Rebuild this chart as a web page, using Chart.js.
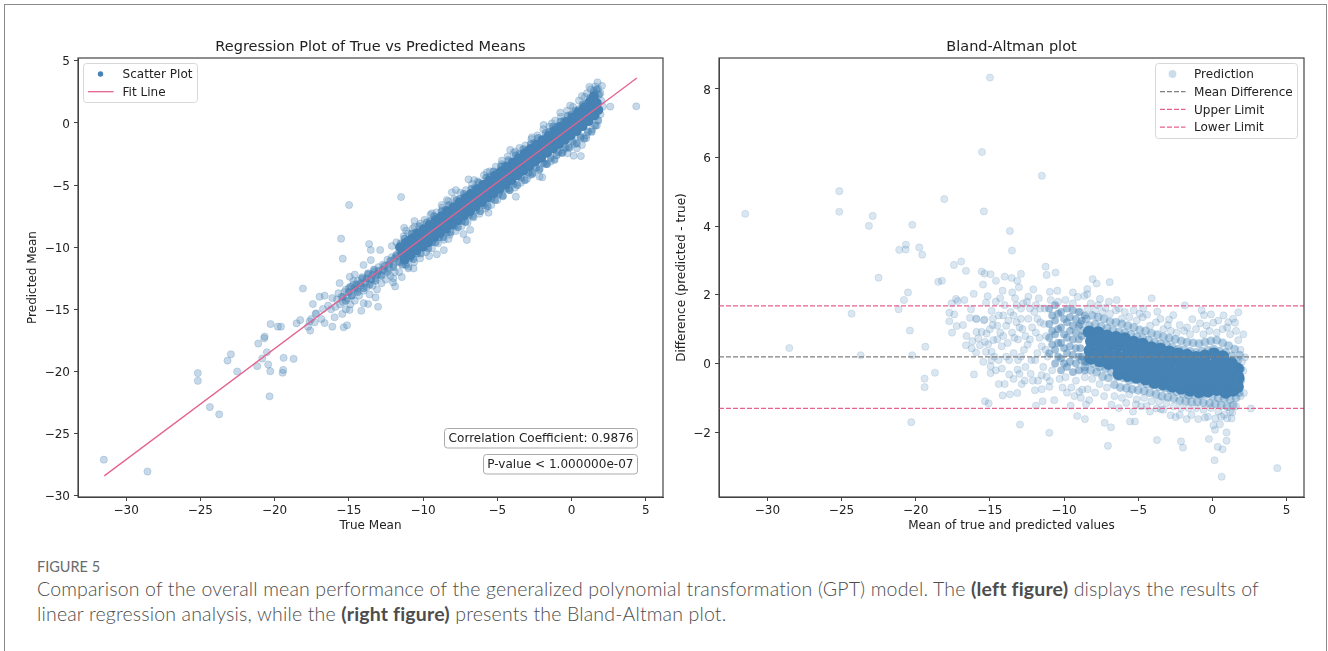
<!DOCTYPE html>
<html>
<head>
<meta charset="utf-8">
<title>Figure 5</title>
<script src="https://cdn.jsdelivr.net/npm/chart.js@4"></script>
<style>
    html, body { margin: 0; padding: 0; background: #fff; overflow: hidden; width: 1328px; height: 651px; }
    .frame { position: absolute; left: 4px; top: 4px; width: 1321px; height: 700px; border: 1.5px solid #8a8a8a; }
    canvas { position: absolute; }
    #regression-chart { left: 21px; top: 30px; }
    #bland-chart { left: 670px; top: 30px; }
    .fig-label { position: absolute; left: 37px; top: 558px; font: 14.5px Lato, sans-serif; color: #6a6a6a; }
    .fig-text { position: absolute; left: 37px; top: 577px; width: 1270px; font: 300 19.5px/24.5px Lato, sans-serif; letter-spacing: 0.17px; color: #4d4d4d; white-space: nowrap; }
    .fig-text b { font-weight: 700; color: #4d4d4d; }
</style>
</head>
<body>
<div class="frame"></div>
<canvas id="regression-chart" width="649" height="506"></canvas>
<canvas id="bland-chart" width="644" height="506"></canvas>
<div class="fig-label">FIGURE 5</div>
<div class="fig-text">Comparison of the overall mean performance of the generalized polynomial transformation (GPT) model. The <b>(left figure)</b> displays the results of<br>linear regression analysis, while the <b>(right figure)</b> presents the Bland-Altman plot.</div>
<script>
// tick labels
const regressionXTicks = [-30, -25, -20, -15, -10, -5, 0, 5];
const regressionYTicks = [-30, -25, -20, -15, -10, -5, 0, 5];
const blandXTicks = [-30, -25, -20, -15, -10, -5, 0, 5];
const blandYTicks = [-2, 0, 2, 4, 6, 8];

// left panel, [true, predicted]
const fitLine = [[-31.47, -28.4], [4.4, 3.62]];
const regressionSparse = [
    [-31.5,-27.1],[-28.56,-28.05],[-23.73,-23.45],[-24.36,-22.86],[-25.17,-20.75],[-25.17,-20.13],[-23.17,-19.12],[-22.94,-18.61],
    [-22.52,-20],[-21.17,-19.57],[-21.1,-17.75],[-20.83,-18.96],[-20.52,-18.45],[-20.7,-17.33],[-20.67,-17.19],[-20.43,-19.44],
    [-20.29,-19.97],[-20.34,-22],[-20.27,-16.18],[-19.78,-16.39],[-19.57,-16.39],[-19.39,-18.9],[-19.42,-19.87],[-19.46,-20.1],
    [-18.72,-18.98],[-18.52,-16.12],[-18.27,-15.86],[-18.09,-13.32],[-17.75,-16.39],[-17.6,-16.71],[-17.64,-15.96],[-17.53,-15.78],
    [-17.42,-14.57],[-17.3,-16.04],[-17.24,-15.37],[-17.19,-15.32],[-16.97,-13.98],[-16.63,-13.9],[-16.74,-14.97],[-16.85,-15.78],
    [-16.63,-16.1],[-16.4,-14.7],[-16.11,-16.39],[-16.11,-14.09],[-15.96,-15.64],[-15.35,-16.44],[-15.12,-16.28],[-15.44,-15.37],
    [-14.95,-15.05],[-14.16,-15.11],[-13.7,-14.57],[-13.03,-14.79],[-15.62,-12.89],[-14.94,-12.38],[-14.6,-12.2],[-12.02,-12.83],
    [-11.88,-13.15],[-13.2,-14.04],[-14.98,-6.6],[-11.48,-5.96],[-15.52,-9.31],[-15.41,-10.92],
    [-13.63,-9.74],[-13.52,-10.22],[-12.89,-10.22],[-14.01,-11.43],[-13.52,-11.03],[-12.1,-9.9],[-11.27,-8.43],[-11.14,-8.67],
    [-10.58,-7.89],[-10.58,-8.35],[-9.41,-7.27],[-8.74,-6.6],[-8.4,-6.2],[-8.06,-5.58],[-7.79,-5.4],[-6.94,-4.54],[-6.56,-4.59],
    [-5.7,-3.97],[-4.69,-3.03],[-4.13,-2.17],[-3.8,-2.3],[-2.67,-1.15],[-1.88,-0.16],[-1.32,-0.03],[-0.76,0.83],[-0.09,1.4],
    [0.7,2.17],[1.04,2.39],[1.75,3.27],[2.05,2.98],[2.11,1.32],[2.61,1.32],[4.36,1.34],
    [0.63,-2.66],[0.14,-2.63],[-0.27,-2.44],[0.36,-2.04],[0.7,-1.77],[0.99,-1.23],[-0.54,-2.17],[-1.0,-2.58],[-1.7,-3.3],
    [-1.97,-4.37],[-2.15,-4.32],[-2.78,-4.19],[-3.75,-5.93],[-4.24,-5.26],[-5.59,-7.22],[-6.83,-8.6],[-7.28,-8.94],[-7.05,-9.42],
    [-8.29,-9.34],[-8.6,-10.23],[-9.07,-10.57],[-9.59,-10.71],[-10.64,-11.7],[-10.98,-11.57],[-11.43,-12.4],[-12,-12.5],
    // band edges
    [-11.8,-9.6],[-11.3,-9.1],[-11,-8.9],[-10.7,-8.5],[-10.2,-8.1],[-9.9,-7.8],[-9.5,-7.4],[-9.1,-7.2],[-8.7,-6.8],[-8.3,-6.3],[-7.9,-6.1],
    [-7.5,-5.6],[-7.1,-5.4],[-6.7,-4.9],[-6.3,-4.7],[-5.9,-4.2],[-5.5,-3.9],[-5.1,-3.5],[-4.7,-3.3],[-4.3,-2.7],[-3.9,-2.4],[-3.5,-2],
    [-3.1,-1.8],[-2.7,-1.3],[-2.3,-1],[-1.9,-0.5],[-1.5,-0.3],[-1.1,0.2],[-0.7,0.5],[-0.3,1],[0.1,1.3],[0.5,1.8],[0.9,2.1],[1.3,2.7],
    [1.6,2.95],[1.5,2.6],[1.8,2.75],[1.95,2.4],[2,1.8],[1.2,2.9],
    [-11.6,-12],[-11,-11.7],[-10.6,-11.2],[-10.2,-10.9],[-9.8,-10.4],[-9.4,-10.1],[-9,-9.7],[-8.6,-9.4],[-8.2,-9],[-7.8,-8.7],[-7.4,-8.3],
    [-7,-8],[-6.6,-7.6],[-6.2,-7.3],[-5.8,-6.9],[-5.4,-6.6],[-5,-6.2],[-4.6,-5.9],[-4.2,-5.4],[-3.8,-5.2],[-3.4,-4.8],[-3,-4.5],[-2.6,-4],
    [-2.2,-3.8],[-1.8,-3.3],[-1.4,-3.1],[-1,-2.6],[-0.6,-2.4],[-0.2,-1.9],[0.2,-1.7],[0.6,-1.2],[1,-1],[1.4,-0.5],[1.7,-0.2],[1.95,0.7],
    // tail cluster
    [-16.2,-15],[-15.9,-14.8],[-15.8,-14.2],[-15.6,-14.6],[-15.5,-14],[-15.4,-14.4],[-15.3,-13.6],[-15.2,-15],[-15.1,-14.1],[-15,-13.3],
    [-14.9,-14.6],[-14.8,-13.9],[-14.7,-13],[-14.6,-14.3],[-14.5,-13.4],[-14.4,-12.7],[-14.3,-13.9],[-14.2,-13.1],[-14.1,-12.4],[-14,-14.5],
    [-14,-13.5],[-13.9,-12.8],[-13.8,-13.2],[-13.7,-12.2],[-13.6,-13.8],[-13.5,-12.6],[-13.4,-13.1],[-13.3,-12],[-13.2,-12.5],[-13.1,-13.4],
    [-13,-11.6],[-12.9,-12.2],[-12.8,-12.9],[-12.7,-11.4],[-12.6,-11.9],[-12.5,-12.6],[-12.4,-11],[-12.3,-11.7],[-12.2,-12.3],[-12.1,-10.8],
    [-12,-11.4],[-11.9,-12],[-11.8,-10.6],[-11.7,-11.1],[-11.6,-10.3],[-15.7,-13.7],[-15.2,-13.4],[-14.7,-12.7],[-14.4,-13.3],[-13.9,-12.9]
];
const regressionMid = [
    [-11.5,-9.7],[-11.25,-9.3],[-11,-9.4],[-10.75,-8.9],[-10.5,-8.8],[-10.25,-8.3],[-10,-8.5],[-9.75,-8],[-9.5,-7.9],[-9.25,-7.5],[-9,-7.6],[-8.75,-7.1],
    [-8.5,-7],[-8.25,-6.6],[-8,-6.7],[-7.75,-6.2],[-7.5,-6.1],[-7.25,-5.7],[-7,-5.8],[-6.75,-5.3],[-6.5,-5.2],[-6.25,-4.8],[-6,-4.9],[-5.75,-4.4],
    [-5.5,-4.3],[-5.25,-3.9],[-5,-4],[-4.75,-3.5],[-4.5,-3.4],[-4.25,-3],[-4,-3.1],[-3.75,-2.6],[-3.5,-2.5],[-3.25,-2.1],[-3,-2.2],[-2.75,-1.7],
    [-2.5,-1.6],[-2.25,-1.2],[-2,-1.3],[-1.75,-0.8],[-1.5,-0.7],[-1.25,-0.3],[-1,-0.3],[-0.75,0.1],[-0.5,0.2],[-0.25,0.6],[0,0.7],[0.25,1],
    [0.5,1.1],[0.75,1.5],[1,1.6],[1.25,2],[1.5,2.4],[1.7,2.7],[1.85,2.3],
    [-11.4,-11.4],[-11.15,-11.4],[-10.9,-10.9],[-10.65,-10.95],[-10.4,-10.5],[-10.15,-10.5],[-9.9,-10],[-9.65,-10.1],[-9.4,-9.6],[-9.15,-9.6],[-8.9,-9.2],
    [-8.65,-9.2],[-8.4,-8.8],[-8.15,-8.8],[-7.9,-8.3],[-7.65,-8.4],[-7.4,-7.9],[-7.15,-7.95],[-6.9,-7.4],[-6.65,-7.5],[-6.4,-7],[-6.15,-7.1],[-5.9,-6.6],
    [-5.65,-6.7],[-5.4,-6.1],[-5.15,-6.2],[-4.9,-5.7],[-4.65,-5.85],[-4.4,-5.3],[-4.15,-5.4],[-3.9,-4.9],[-3.65,-5],[-3.4,-4.4],[-3.15,-4.6],[-2.9,-4],
    [-2.65,-4.1],[-2.4,-3.6],[-2.15,-3.7],[-1.9,-3.2],[-1.65,-3.3],[-1.4,-2.8],[-1.15,-2.95],[-0.9,-2.35],[-0.65,-2.4],[-0.4,-2],[-0.15,-2],[0.1,-1.5],
    [0.35,-1.65],[0.6,-1.1],[0.85,-1.25],[1.1,-0.7],[1.35,-0.7],[1.6,-0.2],[1.8,0.2],
    [-15.4,-14],[-15.2,-14.3],[-15,-13.6],[-14.8,-13.9],[-14.6,-13.3],[-14.4,-13.6],[-14.2,-12.9],[-14,-13.3],[-13.8,-12.5],[-13.6,-13],[-13.4,-12.2],
    [-13.2,-12.7],[-13,-11.9],[-12.8,-12.3],[-12.6,-11.5],[-12.4,-12],[-12.2,-11.1],[-12,-11.6],[-11.8,-10.7],[-11.6,-11.2],[-14.1,-12.5],[-13.7,-12.1],
    [-13.5,-12.6],[-13.1,-12.2],[-12.7,-11.8],[-12.3,-11.4],[-11.9,-10.9],[-14.5,-13],[-14.9,-13.2],[-13.3,-11.8]
];
const regressionDense = [
    [-11.55,-10],[-11.4,-10.5],[-11.25,-11],[-11.15,-9.65],[-11,-10.1],[-10.85,-10.65],[-10.75,-9.3],[-10.6,-9.8],[-10.45,-10.25],
    [-10.35,-8.9],[-10.2,-9.4],[-10.05,-9.95],[-9.95,-8.55],[-9.8,-9.05],[-9.65,-9.6],[-9.55,-8.2],[-9.4,-8.7],[-9.25,-9.2],
    [-9.15,-7.85],[-9,-8.35],[-8.85,-8.85],[-8.75,-7.5],[-8.6,-8],[-8.45,-8.5],[-8.35,-7.1],[-8.2,-7.65],[-8.05,-8.15],
    [-7.95,-6.8],[-7.8,-7.25],[-7.65,-7.8],[-7.55,-6.4],[-7.4,-6.9],[-7.25,-7.45],[-7.15,-6.05],[-7,-6.55],[-6.85,-7.1],
    [-6.75,-5.7],[-6.6,-6.2],[-6.45,-6.7],[-6.35,-5.35],[-6.2,-5.85],[-6.05,-6.35],[-5.95,-5],[-5.8,-5.5],[-5.65,-6],
    [-5.55,-4.65],[-5.4,-5.15],[-5.25,-5.65],[-5.15,-4.25],[-5,-4.75],[-4.85,-5.3],[-4.75,-3.9],[-4.6,-4.4],[-4.45,-4.95],
    [-4.35,-3.55],[-4.2,-4.05],[-4.05,-4.6],[-3.95,-3.2],[-3.8,-3.7],[-3.65,-4.2],[-3.55,-2.85],[-3.4,-3.35],[-3.25,-3.85],
    [-3.15,-2.45],[-3,-3],[-2.85,-3.5],[-2.75,-2.1],[-2.6,-2.65],[-2.45,-3.1],[-2.35,-1.75],[-2.2,-2.25],[-2.05,-2.8],
    [-1.95,-1.4],[-1.8,-1.9],[-1.65,-2.4],[-1.55,-1.05],[-1.4,-1.55],[-1.25,-2.05],[-1.15,-0.65],[-1,-1.2],[-0.85,-1.7],
    [-0.75,-0.3],[-0.6,-0.85],[-0.45,-1.35],[-0.35,0.05],[-0.2,-0.5],[-0.05,-1],[0.05,0.45],[0.2,-0.1],[0.35,-0.65],
    [0.45,0.85],[0.6,0.3],[0.75,-0.25],[0.85,1.25],[1,0.7],[1.15,0.15],[1.25,1.7],[1.4,1.15],[1.55,0.6],[1.5,2.15],[1.7,1.6],[1.8,1.05]
];

// right panel, [mean, difference]
const meanDifference = 0.19;
const upperLimit = 1.68;
const lowerLimit = -1.31;
const blandLineEnds = [-33.26, 6.18];
const blandSparse = [
    [-14.99,8.33],[-15.53,6.16],[-25.15,5.02],[-25.15,4.42],[-31.49,4.36],[-22.9,4.3],[-23.15,4.01],[-18.07,4.79],[-15.4,4.43],[-20.23,4.04],
    [-20.66,3.46],[-21.11,3.31],[-20.68,3.32],[-19.76,3.38],[-19.56,3.17],[-22.5,2.5],[-17.42,2.87],[-16.93,2.97],[-16.61,2.7],[-15.55,2.68],
    [-15.35,2.62],[-14.95,2.6],[-14.59,2.41],[-15.46,2.3],[-18.48,2.38],[-18.23,2.41],[-16.09,2.03],[-15.15,1.96],[-20.52,2.07],[-20.79,1.85],
    [-21.15,1.58],[-24.32,1.45],[-20.39,0.96],[-28.52,0.45],[-23.71,0.24],[-20.23,0.24],[-19.35,0.49],[-18.7,-0.27],[-19.4,-0.44],[-19.4,-0.69],
    [-20.3,-1.71],[-16.07,-0.32],[-15.33,-1.1],[-15.08,-1.16],[-14.95,-0.28],[-14.95,-0.08],[-15.44,0.05],[-16.27,1.58],[-16.72,1.85],[-17.28,1.88],
    [-17.17,1.82],[-17.58,1.75],[-17.73,1.48],[-17.4,1.43],[-17.73,1.23],[-17.24,1.09],[-16.81,1.12],[-17.55,0.9],[-16.57,0.8],[-16.61,0.53],
    [-16.23,0.44],[-15.93,0.32],[-16.34,1.33],[-15.93,1.31],[-15.9,1.29],[-15.4,1.26],[-15.36,1.28],[-15.26,1.77],[-14.88,1.53],[-14.81,1.12],
    [-15.9,0.92],[-15.55,0.92],[-16.18,0.65],[-15.78,0.73],[-15.33,0.63],[-15.11,0.56],[-15.66,0.53],[-15.26,0.34],[-14.88,0.34],[-14.77,0.68],
    [-15.22,0.87],[-11.49,5.47],[-13.65,3.86],[-13.51,3.29],[-11.24,2.82],[-10.57,2.65],[-11.17,2.58],[-12.9,2.61],[-14,2.53],[-13.53,2.49],
    [-13.15,2.41],[-8.07,2.46],[-7.8,2.33],[-6.92,2.37],[-13.04,2.22],[-12.07,2.16],[-13.49,2.07],[-14.14,2.12],[-10.95,2.09],[-10.45,2.12],
    [-9.4,2.07],[-8.43,2.17],[-8.43,2.02],[-8.63,1.97],[-9.08,1.94],[-4.09,1.9],[-6.45,1.85],[-7.58,1.88],[-6.97,1.8],[-1.85,1.69],
    [-4.66,1.6],[-3.71,1.51],[-2.63,1.41],[-2.92,1.28],[-1.35,1.29],[-0.72,1.55],[-0.09,1.43],[-0.56,1.41],[0.76,1.4],[1.75,1.49],
    [1.08,1.2],[1.53,1.19],[-0.83,1.17],[0.07,1.19],[2.09,0.85],[1.75,0.68],[2.2,0.18],[2.09,-0.21],[2.13,-0.86],[2.6,-1.31],
    [4.38,-3.05],[0.63,-3.3],[0.15,-2.82],[0.69,-2.5],[0.36,-2.43],[0.96,-2.25],[0.96,-2.01],[-0.23,-2.2],[0.07,-1.8],[0.51,-1.77],
    [0.18,-1.93],[1.35,-1.43],[-1.98,-2.45],[-2.11,-2.27],[-3.73,-2.23],[-7.04,-2.4],[-6.83,-1.86],[-7.26,-1.73],[-10.99,-2.02],[-12.97,-1.78],
    [-8.59,-1.62],[-9.11,-1.53],[-5.55,-1.69],[-5.22,-1.69],[-5.35,-1.4],[-9.55,-1.23],[-8.52,-1.19],[-8.3,-1.07],[-8.86,-1],[-8.77,-0.76],
    [-8.97,-0.83],[-10.66,-1.07],[-11.44,-1.1],[-11.89,-1.23],[-11.96,-0.78],[-13.15,-0.86],[-13.65,-0.9],[-14.14,-0.93],[-10.99,-0.68],[-10.95,-0.51],
    [-11.17,-0.39],[-11.51,-0.34],[-13.13,-0.18],[-13.69,-0.32],[-14.19,-0.15],[-2.81,-1.51],[-1.73,-1.62],[-2.47,-1.56],[-0.95,-1.62],[-0.5,-1.58],
    [-3.76,-1.31],[-3.46,-1.33],[-4.43,-1.24],[-5.15,-1.19],
    // rim of the dense blob
    [-8.9,1.5],[-8.4,1.6],[-7.9,1.55],[-7.4,1.5],[-6.9,1.45],[-6.5,1.55],[-6.1,1.3],[-5.6,1.35],[-5.1,1.25],[-4.7,1.35],[-4.2,1.1],[-3.8,1.2],
    [-3.3,1],[-2.8,0.95],[-2.4,0.9],[-1.9,0.95],[-1.5,0.85],[-1.1,1],[-0.6,0.85],[-0.2,0.95],[0.3,0.9],[0.7,1],[1.2,0.85],[1.6,0.95],[1.9,0.4],[2,0.05],
    [-8.6,-0.4],[-8.1,-0.45],[-7.6,-0.6],[-7.1,-0.7],[-6.6,-0.95],[-6.1,-1],[-5.6,-0.9],[-5.1,-1.05],[-4.6,-1],[-4.1,-1.1],[-3.6,-1.1],[-3.1,-1.15],
    [-2.6,-1.25],[-2.1,-1.3],[-1.6,-1.3],[-1.1,-1.3],[-0.6,-1.35],[-0.1,-1.3],[0.4,-1.4],[0.8,-1.5],[1.2,-1.4],[1.6,-1.25],[1.9,-0.95],[1,-1.6],[0.6,-1.55],
    [-8.2,1.75],[-7.7,1.7],[-7.2,1.62],[-6.3,1.6],[-5.9,1.5],[-5.3,1.55],[-4.9,1.45],[-4.4,1.42],[-3.5,1.3],[-3,1.12],[-2.2,1.12],[-1.7,1.05],[-0.4,1.1],[0.4,1.25],[1,1.05],[1.4,1.3],
    [-9.3,-0.95],[-8.4,-0.75],[-7.9,-0.85],[-7.3,-0.95],[-6.8,-1.2],[-6.3,-1.3],[-5.8,-1.15],[-4.8,-1.25],[-4.2,-1.4],[-3.3,-1.35],[-2.2,-1.5],[-1.4,-1.5],[-0.3,-1.55],[0.2,-1.6],[1.3,-1.6],
    // scatter left of the blob
    [-14.6,1.8],[-14.4,1.4],[-14.3,0.9],[-14.2,0.5],[-14,1.7],[-13.9,1.1],[-13.8,0.6],[-13.7,0.1],[-13.6,1.5],[-13.5,0.9],[-13.4,0.3],[-13.3,1.9],
    [-13.2,1.2],[-13.1,0.7],[-13,-0.3],[-12.9,1.6],[-12.8,1],[-12.7,0.4],[-12.6,-0.1],[-12.5,1.8],[-12.4,1.3],[-12.3,0.7],[-12.2,0.1],[-12.1,-0.5],
    [-12,1.5],[-11.9,0.9],[-11.8,0.3],[-11.7,1.9],[-11.6,1.2],[-11.5,0.5],[-11.4,-0.1],[-11.3,1.6],[-11.2,0.8],[-11.1,0.2],[-14.5,1.1],[-13.9,0.2],
    [-14.7,0.2],[-14.8,1.3],[-15,1],[-14.6,-0.2],[-12.6,0.8],[-13.2,1.7],[-12.3,1.6],[-11.9,1.7],[-12.9,0.2],[-13.4,1.4],[-14.1,1.4],[-14.5,0.7],
    [-10.9,1.85],[-10.4,1.8],[-9.9,1.85],[-9.4,1.75],[-10.8,-0.2],[-10.3,-0.45],[-9.9,-0.4],[-9.5,-0.7],[-9.2,-0.5],[-10.1,-0.7],[-9.8,-0.85],
    [-14.9,0.1],[-14.3,1.9],[-14.1,0.8],[-14.4,0.1],[-13.75,1.25],[-13.35,0.75],[-13,1.05],[-12.75,1.75],[-12.45,0.55],[-12.15,1.05],[-11.95,0.1],[-11.65,0.75],[-11.35,1.15],[-11.25,0.4],
    [-12.65,-0.5],[-12.25,-0.3],[-11.75,-0.5],[-11.5,-0.75],[-13.4,-0.45],[-12.85,-0.6],[-14,-0.6],[-14.4,-0.6],[-12.4,1.95],[-11.8,1.3],[-12.9,1.3],[-11.6,1.6],[-13.1,0.1]
];
const blandMid = [
    [-11,1.6],[-11,1.15],[-11,0.75],[-11,0.3],[-10.6,1.7],[-10.6,1.25],[-10.6,0.85],[-10.6,0.4],[-10.6,0],[-10.2,1.5],[-10.2,1.05],[-10.2,0.6],[-10.2,0.15],
    [-10.2,-0.2],[-9.8,1.6],[-9.8,1.2],[-9.8,0.75],[-9.8,0.3],[-9.8,-0.1],[-9.4,1.55],[-9.4,1.1],[-9.4,0.7],[-9.4,0.25],[-9.4,-0.25],[-9,1.5],[-9,1.1],
    [-9,0.7],[-9,0.2],[-9,-0.2],[-8.6,1.4],[-8.6,0.05],[-8.6,-0.2],[-8.9,0.45],
    [-10.8,1.4],[-10.8,0.95],[-10.8,0.55],[-10.4,1.45],[-10.4,1],[-10.4,0.6],[-10.4,0.2],[-10,1.3],[-10,0.85],[-10,0.45],[-10,0],[-9.6,1.35],[-9.6,0.95],
    [-9.6,0.5],[-9.6,0.05],[-9.2,1.3],[-9.2,0.9],[-9.2,0.45],[-9.2,0],[-8.8,1.25],[-8.8,0.8],[-8.8,0.2]
];
const blandRim = [
    [-8.9,1.15],[-8.7,0.95],[-8.5,1.3],[-8.3,1.1],[-8.1,1.4],[-7.9,1.15],[-7.7,1.35],[-7.5,1.08],[-7.3,1.3],[-7.1,1.02],[-6.9,1.22],[-6.7,0.98],[-6.5,1.2],
    [-6.3,0.92],[-6.1,1.15],[-5.9,0.9],[-5.7,1.1],[-5.5,0.85],[-5.3,1.05],[-5.1,0.78],[-4.9,0.98],[-4.7,0.75],[-4.5,0.95],[-4.3,0.68],[-4.1,0.88],[-3.9,0.62],
    [-3.7,0.84],[-3.5,0.58],[-3.3,0.78],[-3.1,0.55],[-2.9,0.74],[-2.7,0.48],[-2.5,0.7],[-2.3,0.42],[-2.1,0.66],[-1.9,0.4],[-1.7,0.62],[-1.5,0.35],[-1.3,0.6],
    [-1.1,0.32],[-0.9,0.58],[-0.7,0.35],[-0.5,0.62],[-0.3,0.38],[-0.1,0.66],[0.1,0.42],[0.3,0.68],[0.5,0.36],[0.7,0.6],[0.9,0.32],[1.1,0.52],[1.3,0.22],
    [1.5,0.42],[1.7,0.08],[1.85,0.24],
    [-8.8,0.1],[-8.6,-0.1],[-8.4,0.05],[-8.2,-0.2],[-8,0],[-7.8,-0.25],[-7.6,-0.1],[-7.4,-0.38],[-7.2,-0.15],[-7,-0.42],[-6.8,-0.25],[-6.6,-0.62],[-6.4,-0.38],
    [-6.2,-0.7],[-6,-0.42],[-5.8,-0.72],[-5.6,-0.5],[-5.4,-0.75],[-5.2,-0.48],[-5,-0.78],[-4.8,-0.55],[-4.6,-0.8],[-4.4,-0.6],[-4.2,-0.85],[-4,-0.62],[-3.8,-0.9],
    [-3.6,-0.68],[-3.4,-0.95],[-3.2,-0.72],[-3,-0.98],[-2.8,-0.78],[-2.6,-1.02],[-2.4,-0.82],[-2.2,-1.08],[-2,-0.88],[-1.8,-1.1],[-1.6,-0.92],[-1.4,-1.12],[-1.2,-0.9],
    [-1,-1.12],[-0.8,-0.92],[-0.6,-1.14],[-0.4,-0.9],[-0.2,-1.16],[0,-0.95],[0.2,-1.18],[0.4,-1],[0.6,-1.22],[0.8,-1.02],[1,-1.26],[1.2,-1.05],[1.4,-1.22],[1.6,-1],
    [1.8,-0.85],[1.9,-0.5],[1.9,-0.15]
];
const blandDense = [
    [-8.3,0.92],[-8.15,0.65],[-8.25,0.38],[-8.2,0.15],[-7.7,0.9],[-7.55,0.62],[-7.65,0.35],[-7.6,0.08],[-7.1,0.8],[-6.95,0.55],[-7.05,0.28],[-7,0],
    [-6.5,0.76],[-6.35,0.5],[-6.45,0.22],[-6.4,-0.05],[-6.3,-0.3],[-5.9,0.72],[-5.75,0.45],[-5.85,0.18],[-5.8,-0.08],[-5.7,-0.35],[-5.3,0.62],[-5.15,0.36],
    [-5.25,0.1],[-5.2,-0.15],[-5.1,-0.4],[-4.7,0.56],[-4.55,0.3],[-4.65,0.05],[-4.6,-0.2],[-4.5,-0.45],[-4.1,0.46],[-3.95,0.2],[-4.05,-0.06],[-4,-0.32],[-3.9,-0.55],
    [-3.5,0.42],[-3.35,0.15],[-3.45,-0.1],[-3.4,-0.36],[-3.3,-0.6],[-2.9,0.34],[-2.75,0.08],[-2.85,-0.18],[-2.8,-0.42],[-2.7,-0.66],[-2.3,0.28],[-2.15,0.02],[-2.25,-0.24],
    [-2.2,-0.5],[-2.1,-0.72],[-1.7,0.24],[-1.55,-0.02],[-1.65,-0.28],[-1.6,-0.54],[-1.5,-0.78],[-1.1,0.18],[-0.95,-0.08],[-1.05,-0.34],[-1,-0.6],[-0.9,-0.82],
    [-0.5,0.22],[-0.35,-0.05],[-0.45,-0.3],[-0.4,-0.56],[-0.3,-0.8],[0.1,0.28],[0.25,0.02],[0.15,-0.25],[0.2,-0.5],[0.3,-0.76],[0.7,0.2],[0.85,-0.06],[0.75,-0.32],
    [0.8,-0.58],[0.9,-0.84],[1.3,0],[1.45,-0.26],[1.35,-0.52],[1.4,-0.78],[1.7,-0.16],[1.75,-0.42],[1.7,-0.68]
];

const steel = '70, 130, 180';
const pink = '#e4638f';
const axisColor = '#444';
const tickFont = { family: 'DejaVu Sans', size: 12 };

const toPoints = rows => rows.map(r => ({ x: r[0], y: r[1] }));
const minusSign = v => String(v).replace('-', '\u2212');

// title, frame, legend box and the small note boxes; these sit inside the axes so the stock plugins cant place them
const panelDecor = {
    id: 'panelDecor',
    afterDatasetsDraw(chart, args, opts) {
        const ctx = chart.ctx;
        const area = chart.chartArea;
        const left = chart.canvas.offsetLeft;
        const top = chart.canvas.offsetTop;
        ctx.save();
        ctx.strokeStyle = axisColor;
        ctx.lineWidth = 1.2;
        ctx.strokeRect(area.left, area.top, area.right - area.left, area.bottom - area.top);

        ctx.fillStyle = '#222';
        ctx.font = '14.5px "DejaVu Sans"';
        ctx.textAlign = 'center';
        ctx.textBaseline = 'middle';
        ctx.fillText(opts.title, (area.left + area.right) / 2, 47 - top);

        const box = opts.legendBox;
        ctx.beginPath();
        ctx.roundRect(box.x - left, box.y - top, box.w, box.h, 3);
        ctx.fillStyle = 'rgba(255,255,255,0.85)';
        ctx.fill();
        ctx.strokeStyle = '#d8d8d8';
        ctx.lineWidth = 1;
        ctx.stroke();
        ctx.font = '12.05px "DejaVu Sans"';
        ctx.textAlign = 'left';
        opts.rows.forEach((row, i) => {
            const y = box.y - top + box.firstRow + i * box.rowGap;
            const x = box.x - left;
            if (row.kind === 'dot') {
                ctx.beginPath();
                ctx.arc(x + 17, y, row.r, 0, Math.PI * 2);
                ctx.fillStyle = row.color;
                ctx.fill();
            } else {
                ctx.beginPath();
                ctx.setLineDash(row.dash || []);
                ctx.moveTo(x + 4.5, y);
                ctx.lineTo(x + 30, y);
                ctx.strokeStyle = row.color;
                ctx.lineWidth = 1.3;
                ctx.stroke();
                ctx.setLineDash([]);
            }
            ctx.fillStyle = '#222';
            ctx.fillText(row.text, x + box.textAt, y + 1);
        });

        (opts.notes || []).forEach(note => {
            ctx.beginPath();
            ctx.roundRect(note.x - left, note.y - top, note.w, note.h, 3);
            ctx.fillStyle = '#fff';
            ctx.fill();
            ctx.strokeStyle = '#aaa';
            ctx.lineWidth = 1;
            ctx.stroke();
            ctx.fillStyle = '#222';
            ctx.font = '12.05px "DejaVu Sans"';
            ctx.textAlign = 'right';
            ctx.fillText(note.text, note.x - left + note.w - 4, note.y - top + note.h / 2 + 1);
        });
        ctx.restore();
    }
};

function axis(min, max, tickValues, titleText, fitSize, isX) {
    return {
        type: 'linear',
        bounds: 'data',
        min: min,
        max: max,
        afterBuildTicks: scale => { scale.ticks = tickValues.map(v => ({ value: v })); },
        afterFit: scale => { if (isX) { scale.height = fitSize; } else { scale.width = fitSize; } },
        border: { display: true, color: axisColor, width: 1 },
        grid: { drawOnChartArea: false, drawTicks: true, tickColor: axisColor, tickLength: 4 },
        ticks: {
            autoSkip: false,
            maxRotation: 0,
            padding: isX ? 3 : 4,
            labelOffset: isX ? 0 : 1.5,
            color: '#222',
            font: tickFont,
            callback: minusSign
        },
        title: {
            display: true,
            text: titleText,
            color: '#222',
            font: { family: 'DejaVu Sans', size: 12 },
            padding: { top: isX ? 2 : 5, bottom: 3 }
        }
    };
}

function scatterSet(label, rows, alpha, radius, edge) {
    return {
        label: label,
        data: toPoints(rows),
        backgroundColor: 'rgba(' + steel + ', ' + alpha + ')',
        borderColor: 'rgba(' + steel + ', ' + alpha + ')',
        borderWidth: edge,
        pointRadius: radius
    };
}

function lineSet(label, rows, color, dash) {
    return {
        type: 'line',
        label: label,
        data: toPoints(rows),
        borderColor: color,
        borderWidth: 1.3,
        borderDash: dash,
        pointRadius: 0,
        fill: false,
        tension: 0
    };
}

new Chart(document.getElementById('regression-chart'), {
    type: 'scatter',
    plugins: [panelDecor],
    data: {
        datasets: [
            lineSet('Fit Line', fitLine, pink, []),
            scatterSet('Scatter Plot', regressionSparse, 0.3, 3.6, 0.8),
            scatterSet('Scatter Plot', regressionMid, 0.6, 3.9, 0),
            scatterSet('Scatter Plot', regressionDense, 1, 5, 0)
        ]
    },
    options: {
        responsive: false,
        animation: false,
        layout: { padding: { top: 28, right: 7, bottom: 0, left: 0 } },
        scales: {
            x: axis(-33.24, 6.16, regressionXTicks, 'True Mean', 39, true),
            y: axis(-30.1, 5.23, regressionYTicks, 'Predicted Mean', 57, false)
        },
        plugins: {
            legend: { display: false },
            tooltip: { enabled: false },
            panelDecor: {
                title: 'Regression Plot of True vs Predicted Means',
                legendBox: { x: 83.5, y: 63.5, w: 114, h: 39, firstRow: 10.5, rowGap: 17.7, textAt: 39 },
                rows: [
                    { text: 'Scatter Plot', kind: 'dot', color: 'rgb(' + steel + ')', r: 2.7 },
                    { text: 'Fit Line', kind: 'line', color: pink }
                ],
                notes: [
                    { text: 'Correlation Coefficient: 0.9876', x: 444.5, y: 428.5, w: 193, h: 19.5 },
                    { text: 'P-value < 1.000000e-07', x: 483.5, y: 454.5, w: 154, h: 19.5 }
                ]
            }
        }
    }
});

new Chart(document.getElementById('bland-chart'), {
    type: 'scatter',
    plugins: [panelDecor],
    data: {
        datasets: [
            lineSet('Mean Difference', [[blandLineEnds[0], meanDifference], [blandLineEnds[1], meanDifference]], '#808080', [5, 2]),
            lineSet('Upper Limit', [[blandLineEnds[0], upperLimit], [blandLineEnds[1], upperLimit]], pink, [5, 2]),
            lineSet('Lower Limit', [[blandLineEnds[0], lowerLimit], [blandLineEnds[1], lowerLimit]], pink, [5, 2]),
            scatterSet('Prediction', blandSparse, 0.2, 3.6, 0.8),
            scatterSet('Prediction', blandMid, 0.5, 3.9, 0),
            scatterSet('Prediction', blandRim, 0.42, 4.4, 0),
            scatterSet('Prediction', blandDense, 1, 6.4, 0)
        ]
    },
    options: {
        responsive: false,
        animation: false,
        layout: { padding: { top: 28, right: 10, bottom: 0, left: 0 } },
        scales: {
            x: axis(-33.26, 6.18, blandXTicks, 'Mean of true and predicted values', 39, true),
            y: axis(-3.89, 8.9, blandYTicks, 'Difference (predicted - true)', 49, false)
        },
        plugins: {
            legend: { display: false },
            tooltip: { enabled: false },
            panelDecor: {
                title: 'Bland-Altman plot',
                legendBox: { x: 1155.5, y: 63.5, w: 142, h: 75, firstRow: 10.5, rowGap: 17.7, textAt: 38.5 },
                rows: [
                    { text: 'Prediction', kind: 'dot', color: 'rgba(' + steel + ', 0.28)', r: 3.9 },
                    { text: 'Mean Difference', kind: 'line', color: '#808080', dash: [5, 2] },
                    { text: 'Upper Limit', kind: 'line', color: pink, dash: [5, 2] },
                    { text: 'Lower Limit', kind: 'line', color: pink, dash: [5, 2] }
                ]
            }
        }
    }
});
</script>
</body>
</html>
